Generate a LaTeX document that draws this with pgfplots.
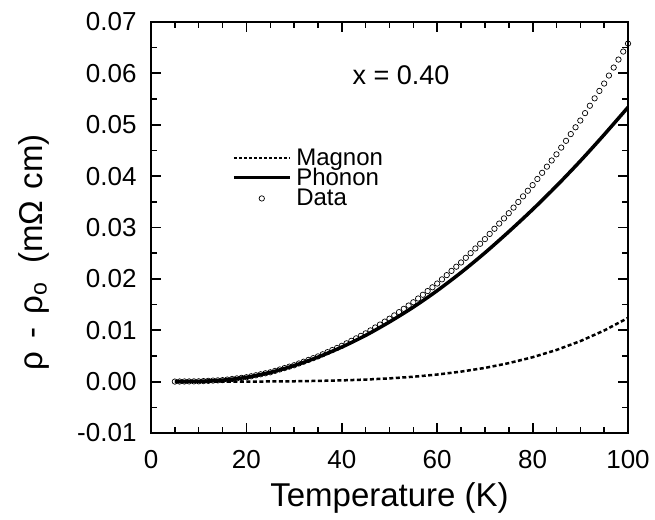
\documentclass[border=0pt]{standalone}
\usepackage{pgfplots}
\pgfplotsset{compat=1.18}
\usepackage{fontspec}
\setmainfont{Liberation Sans}
\pgfplotsset{
  magleg/.style={legend image code/.code={\draw[##1, line width=2pt, dash pattern=on 3pt off 2pt] (0pt,0pt) -- (56pt,0pt);}},
  phoneg/.style={legend image code/.code={\draw[##1, line width=3pt] (0pt,0pt) -- (56pt,0pt);}},
  dataleg/.style={legend image code/.code={\draw[mark repeat=2,mark phase=2,##1] plot coordinates {(0pt,0pt) (28pt,0pt) (56pt,0pt)};}},
}
\begin{document}
\begin{tikzpicture}
\useasboundingbox (-151pt,-86pt) rectangle (504pt,433pt);
\begin{axis}[
  at={(0pt,0pt)}, anchor=south west,
  scale only axis, width=477pt, height=411pt,
  xmin=0, xmax=100, ymin=-0.01, ymax=0.07,
  xtick={0,20,40,60,80,100}, minor x tick num=3,
  ytick={-0.01,0,0.01,0.02,0.03,0.04,0.05,0.06,0.07}, minor y tick num=1,
  scaled y ticks=false,
  axis on top,
  tick align=inside,
  /pgf/number format/assume math mode=true,
  yticklabel style={/pgf/number format/fixed, /pgf/number format/fixed zerofill, /pgf/number format/precision=2, xshift=-11pt},
  xticklabel style={yshift=-14pt},
  tick label style={font=\fontsize{26}{26}\selectfont},
  label style={font=\fontsize{33}{33}\selectfont},
  xlabel={Temperature (K)},
  ylabel={ρ\hspace{0.4em}-\hspace{0.4em}ρ\textsubscript{o}\hspace{0.55em}(mΩ\hspace{0.35em}cm)},
  xlabel style={at={(axis description cs:0.5,-0.158)}, anchor=center},
  ylabel style={at={(axis description cs:-0.245,0.44)}, anchor=center},
  axis line style={line width=1.6pt},
  major tick length=10pt, minor tick length=6pt,
  major tick style={draw=black, line width=1.8pt},
  minor tick style={draw=black, line width=1.5pt},
  legend style={draw=none, fill=none, at={(axis cs:17,0.0458)}, anchor=north west,
    font=\fontsize{24}{24}\selectfont, row sep=-2pt, column sep=3pt, inner sep=0pt, cells={anchor=west}},
]
\addplot[black, line width=2.5pt, dash pattern=on 4pt off 2.5pt, magleg]
  coordinates {(5,0)(10,0)(15,0.000003)(20,0.00001)(25,0.00003)(30,0.00007)(35,0.00014)(40,0.00024)(45,0.0004)(50,0.00063)(55,0.00095)(60,0.00138)(65,0.00195)(70,0.00267)(75,0.0036)(80,0.00475)(85,0.00616)(90,0.00788)(95,0.00995)(100,0.0124)};
\addlegendentry{Magnon}
\addplot[black, line width=3.5pt, smooth, phoneg]
  coordinates {(5,0.00001)(10,0.00006)(15,0.00029)(20,0.00084)(25,0.00179)(30,0.00312)(35,0.00477)(40,0.00673)(45,0.0090)(50,0.01162)(55,0.0145)(60,0.01771)(65,0.02124)(70,0.02507)(75,0.02918)(80,0.0335)(85,0.03808)(90,0.04294)(95,0.04807)(100,0.0534)};
\addlegendentry{Phonon}
\addplot[black, only marks, mark=o, mark size=2.7pt, mark options={fill=white, line width=0.7pt}, dataleg]
  coordinates {
(5,0.00001)(6,0.00002)(7,0.00003)(8,0.00004)(9,0.00005)(10,0.00006)
(11,0.000106)(12,0.000152)(13,0.000198)(14,0.000244)(15,0.00029)
(16,0.000402)(17,0.000514)(18,0.000626)(19,0.000738)(20,0.00085)
(21,0.001044)(22,0.001238)(23,0.001432)(24,0.001626)(25,0.00182)
(26,0.002094)(27,0.002368)(28,0.002642)(29,0.002916)(30,0.00319)
(31,0.003534)(32,0.003878)(33,0.004222)(34,0.004566)(35,0.00491)
(36,0.005322)(37,0.005734)(38,0.006146)(39,0.006558)(40,0.00697)
(41,0.007456)(42,0.007942)(43,0.008428)(44,0.008914)(45,0.0094)
(46,0.00997)(47,0.01054)(48,0.01111)(49,0.01168)(50,0.01225)
(51,0.01289)(52,0.01353)(53,0.01417)(54,0.01481)(55,0.01545)
(56,0.016178)(57,0.016906)(58,0.017634)(59,0.018362)(60,0.01909)
(61,0.01991)(62,0.02073)(63,0.02155)(64,0.02237)(65,0.02319)
(66,0.0241)(67,0.02501)(68,0.02592)(69,0.02683)(70,0.02774)
(71,0.028748)(72,0.029756)(73,0.030764)(74,0.031772)(75,0.03278)
(76,0.033874)(77,0.034968)(78,0.036062)(79,0.037156)(80,0.03825)
(81,0.039448)(82,0.040646)(83,0.041844)(84,0.043042)(85,0.04424)
(86,0.045556)(87,0.046872)(88,0.048188)(89,0.049504)(90,0.05082)
(91,0.05226)(92,0.0537)(93,0.05514)(94,0.05658)(95,0.05802)
(96,0.059576)(97,0.061132)(98,0.062688)(99,0.064244)(100,0.0658)};
\addlegendentry{Data}
\node[font=\fontsize{27}{27}\selectfont] at (axis cs:52.4,0.0597) {x = 0.40};
\end{axis}
\end{tikzpicture}
\end{document}
